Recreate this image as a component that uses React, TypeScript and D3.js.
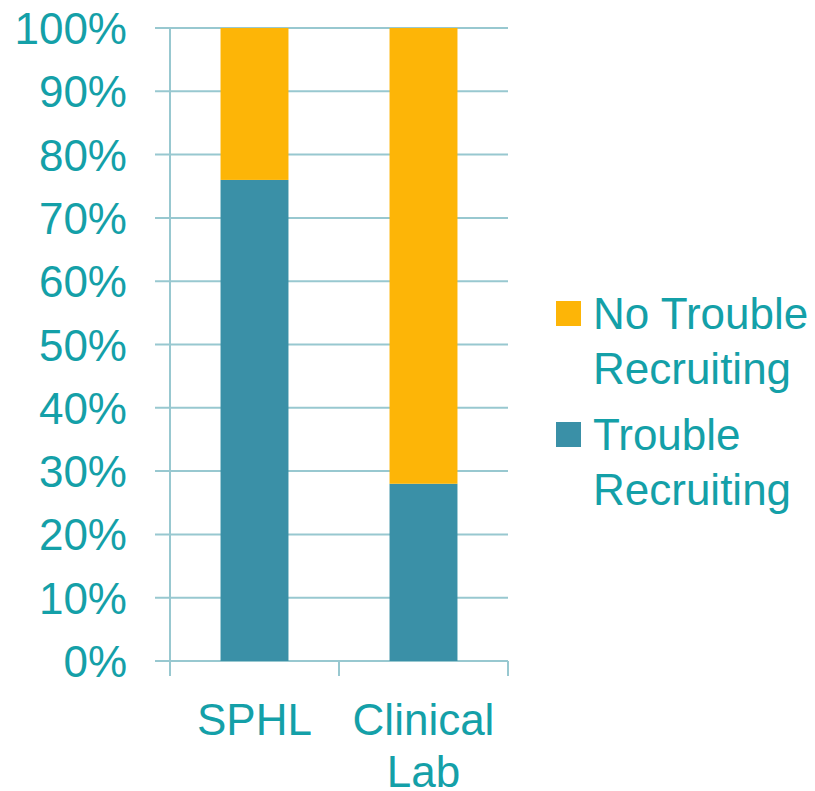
import React from "react";
import * as d3 from "d3";

const categories = ["SPHL", "Clinical Lab"];
const categoryLines = [["SPHL"], ["Clinical", "Lab"]];
const troubleRecruiting = [0.76, 0.28];
const noTroubleRecruiting = [0.24, 0.72];
const yTicks = [0, 0.1, 0.2, 0.3, 0.4, 0.5, 0.6, 0.7, 0.8, 0.9, 1.0];
const legendLines = [["Trouble", "Recruiting"], ["No Trouble", "Recruiting"]];

const W = 815, H = 791;
const TEXT = "#14a0a8";
const GRID = "#98c8d0";
const TEAL = "#3a90a7";
const ORANGE = "#fdb507";
const FONT = "'Liberation Sans', Arial, sans-serif";

export default function App() {
  const left = 170, right = 508, top = 28, bottom = 661;
  const y = d3.scaleLinear().domain([0, 1]).range([bottom, top]);
  const p = 0.598;
  const x = d3.scaleBand<string>().domain(categories).range([left, right]).paddingInner(p).paddingOuter(p / 2);
  const rows = categories.map((c, i) => ({ cat: c, trouble: troubleRecruiting[i], none: noTroubleRecruiting[i] }));
  const stack = d3.stack<any>().keys(["trouble", "none"])(rows);
  const colors = [TEAL, ORANGE];
  const step = x.step();
  const boundaries = d3.range(categories.length + 1).map((i) => left + i * step);

  return (
    <svg width={W} height={H} style={{ position: "absolute", left: 0, top: 0 }} fontFamily={FONT}>
      {yTicks.map((t) => (
        <g key={t}>
          <line x1={155} x2={right} y1={y(t)} y2={y(t)} stroke={GRID} strokeWidth={2} />
          <text x={127} y={y(t) + 16} textAnchor="end" fontSize={44} fill={TEXT}>
            {d3.format(".0%")(t)}
          </text>
        </g>
      ))}
      <line x1={left} x2={left} y1={top} y2={bottom} stroke={GRID} strokeWidth={2} />
      {stack.map((s, si) =>
        s.map((d, i) => (
          <rect
            key={si + "-" + i}
            x={x(categories[i])}
            width={x.bandwidth()}
            y={y(d[1])}
            height={y(d[0]) - y(d[1])}
            fill={colors[si]}
          />
        ))
      )}
      {boundaries.map((b, i) => (
        <line key={i} x1={b} x2={b} y1={bottom} y2={676} stroke={GRID} strokeWidth={2} />
      ))}
      {categories.map((c, i) => (
        <text key={c} x={(x(c) as number) + x.bandwidth() / 2} textAnchor="middle" fontSize={44} fill={TEXT}>
          {categoryLines[i].map((ln, j) => (
            <tspan key={j} x={(x(c) as number) + x.bandwidth() / 2} y={735 + j * 52}>
              {ln}
            </tspan>
          ))}
        </text>
      ))}
      {[1, 0].map((si, k) => {
        const ty = 329 + k * 121;
        return (
          <g key={si}>
            <rect x={556} y={ty - 28} width={25} height={25} fill={colors[si]} />
            <text fontSize={44} fill={TEXT}>
              {legendLines[si].map((ln, j) => (
                <tspan key={j} x={593} y={ty + j * 55}>
                  {ln}
                </tspan>
              ))}
            </text>
          </g>
        );
      })}
    </svg>
  );
}
